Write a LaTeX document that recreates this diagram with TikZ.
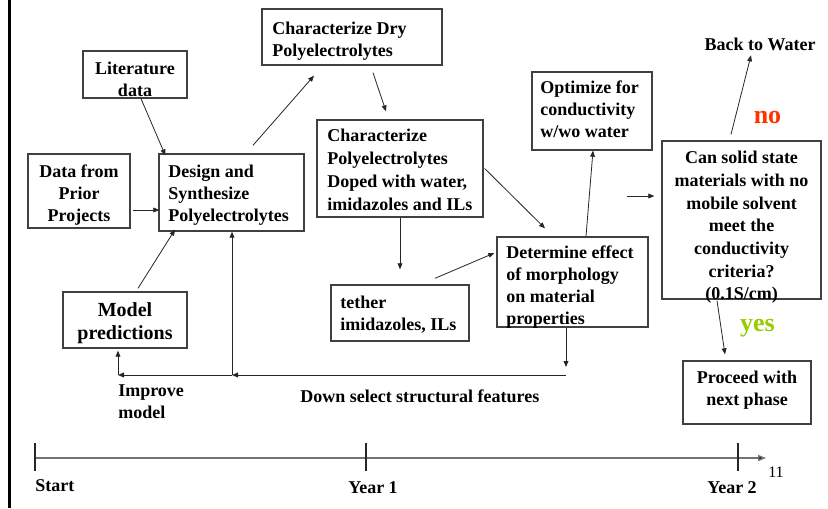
\documentclass[tikz,border=0pt]{standalone}
\usepackage{fontspec}
\setmainfont{Liberation Serif}
\usetikzlibrary{arrows.meta,fit,calc}
\definecolor{noclr}{HTML}{FF3300}
\definecolor{yesclr}{HTML}{99CC00}
\begin{document}
\begin{tikzpicture}[x=0.75pt,y=-0.75pt,
  box/.style={draw=black!75, line width=1pt, inner sep=0pt},
  txt/.style={inner sep=0pt, anchor=north west, align=left,
    font=\bfseries\fontsize{13.5}{16.5}\selectfont},
  ctxt/.style={txt, anchor=north, align=center},
  arr/.style={-{Triangle[length=4.5pt,width=3.6pt]}, line width=0.6pt, draw=black!85},
  tick/.style={line width=0.8pt, draw=black!85},
  axis/.style={line width=1.1pt, draw=black!55, -{Triangle[length=6pt,width=4.5pt,fill=black]}}
]
\useasboundingbox[fill=white] (0,0) rectangle (828,508);
% left border
\draw[line width=2.3pt] (9.5,0) coordinate (bt) -- (9.5,508) coordinate (bb);

% boxes
\node[box, fit={(83,51) (187,98)}] (lit) {};
\node[box, fit={(262,9) (442,65)}] (dry) {};
\node[box, fit={(28,154) (130,228)}] (prior) {};
\node[box, fit={(159,154) (304,231)}] (design) {};
\node[box, fit={(317,120) (483,217)}] (doped) {};
\node[box, fit={(532,72) (652,150)}] (opt) {};
\node[box, fit={(662,141) (821,299)}] (can) {};
\node[box, fit={(497,237) (648,327)}] (det) {};
\node[box, fit={(331,285) (469,341)}] (tether) {};
\node[box, fit={(63,292) (187,348)}] (model) {};
\node[box, fit={(683,361) (811,424)}] (proceed) {};

% box texts
\node[ctxt] (litT) at (135,62) {Literature\\data};
\node[txt] (dryT) at (272,22) {Characterize Dry\\Polyelectrolytes};
\node[ctxt] (priorT) at (79,165) {Data from\\Prior\\Projects};
\node[txt] (designT) at (168,165) {Design and\\Synthesize\\Polyelectrolytes};
\node[txt, font=\bfseries\fontsize{13.5}{17.3}\selectfont] (dopedT) at (327,129) {Characterize\\Polyelectrolytes\\Doped with water,\\imidazoles and ILs};
\node[txt] (optT) at (540,81) {Optimize for\\conductivity\\w/wo water};
\node[ctxt, font=\bfseries\fontsize{13.5}{17}\selectfont] (canT) at (741.5,151) {Can solid state\\materials with no\\mobile solvent\\meet the\\conductivity\\criteria?\\(0.1S/cm)};
\node[txt] (detT) at (506,246) {Determine effect\\of morphology\\on material\\properties};
\node[txt, font=\bfseries\fontsize{13.5}{16}\selectfont] (tetherT) at (340,296) {tether\\imidazoles, ILs};
\node[ctxt, font=\bfseries\fontsize{15}{17.3}\selectfont] (modelT) at (125,302) {Model\\predictions};
\node[ctxt] (proceedT) at (747,371) {Proceed with\\next phase};

% free labels
\node[ctxt] (back) at (760,38) {Back to Water};
\node[inner sep=0pt, anchor=base, font=\bfseries\fontsize{19.5}{22}\selectfont, text=noclr] (no) at (767.5,123) {no};
\node[inner sep=0pt, anchor=base, font=\bfseries\fontsize{19.5}{22}\selectfont, text=yesclr] (yes) at (757.5,331) {yes};
\node[txt] (improve) at (118,384) {Improve\\model};
\node[txt] (down) at (300,390) {Down select structural features};

% connectors
\draw[arr] ($(lit.south)+(6,0)$) -- ($(design.north west)+(7,2)$);
\draw[arr] ($(prior.east)+(2,19)$) -- ($(design.west)+(1,17.5)$);
\draw[arr] ($(design.north)+(21.5,-8)$) -- ($(dry.south)+(-38,10)$);
\draw[arr] ($(dry.south)+(21,7)$) -- ($(doped.north)+(-14,-8)$);
\draw[arr] ($(model.north)+(13,-3)$) -- ($(design.south)+(-56.5,-2)$);
\draw[arr] (doped.south) -- ($(tether.north)+(0,-15)$);
\draw[arr] ($(tether.north)+(35,-6)$) -- ($(det.west)+(-2,-29)$);
\draw[arr] ($(doped.east)+(1,0)$) -- ($(det.north)+(-27.5,-8)$);
\draw[arr] ($(det.north)+(13.5,0)$) -- ($(opt.south)+(1,0)$);
\draw[arr] ($(can.west)+(-34,-24)$) -- ($(can.west)+(-7,-24)$);
\draw[arr] ($(can.north)+(-10.5,-6)$) -- ($(back.south)+(-9,4)$);
\draw[arr] ($(can.south)+(-24.5,1)$) -- ($(proceed.north)+(-22,-6)$);

% feedback loop
\coordinate (fbR) at (566,375);
\coordinate (fbM) at (232,375);
\coordinate (fbL) at (118,375);
\draw[arr] ($(det.south)+(-6.5,0)$) -- ($(fbR)+(0,-8)$);
\draw[arr] (fbR) -- (fbM);
\draw[arr] (fbM) -- (fbL);
\draw[arr] (fbL) -- ($(model.south)+(-7,2)$);
\draw[arr] (fbM) -- ($(design.south)+(0.5,0)$);

% timeline
\coordinate (t0) at (35,458);
\coordinate (t1) at (366,458);
\coordinate (t2) at (738,458);
\coordinate (tend) at (766,458);
\draw[axis] (t0) -- (tend);
\draw[tick] ($(t0)+(0,-15)$) -- ($(t0)+(0,13)$);
\draw[tick] ($(t1)+(0,-15)$) -- ($(t1)+(0,13)$);
\draw[tick] ($(t2)+(0,-15)$) -- ($(t2)+(0,13)$);
\node[txt] (start) at (35,479) {Start};
\node[ctxt] (y1) at (373,481) {Year 1};
\node[ctxt] (y2) at (732,481) {Year 2};
\node[inner sep=0pt, anchor=north west, font=\fontsize{12}{14}\selectfont] (pg) at (768,467) {11};
\end{tikzpicture}
\end{document}
